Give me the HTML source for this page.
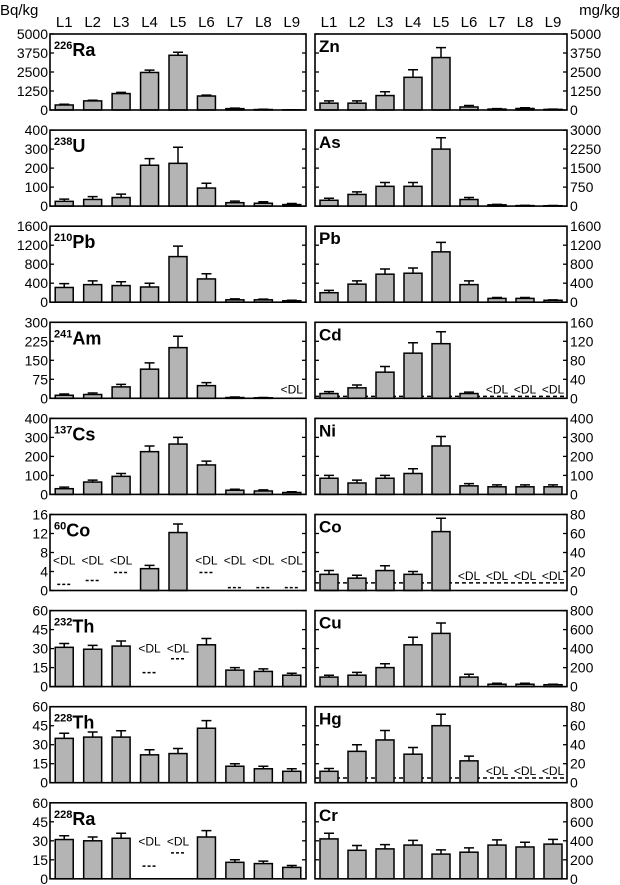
<!DOCTYPE html>
<html><head><meta charset="utf-8"><style>
html,body{margin:0;padding:0;background:#fff;}
svg{display:block;font-family:"Liberation Sans",sans-serif;}
</style></head><body>
<svg id="chart" width="620" height="885" viewBox="0 0 620 885"></svg>
<script>
const categories = ["L1","L2","L3","L4","L5","L6","L7","L8","L9"];
// left panels (Bq/kg)
const ra226Vals = [330,600,1080,2470,3600,920,90,30,10];
const ra226Errs = [50,40,80,150,200,60,30,20,10];
const ra226Ticks = [0,1250,2500,3750,5000];
const u238Vals = [25,35,45,215,225,95,18,15,8];
const u238Errs = [12,15,18,35,85,25,8,8,6];
const u238Ticks = [0,100,200,300,400];
const pb210Vals = [310,370,350,320,960,490,50,50,30];
const pb210Errs = [80,80,80,80,220,110,20,15,10];
const pb210Ticks = [0,400,800,1200,1600];
const am241Vals = [12,15,45,115,200,50,3,2,null];
const am241Errs = [5,6,10,25,45,12,2,1,0];
const am241Dl = [null,null,null,null,null,null,null,null,-1];
const am241Ticks = [0,75,150,225,300];
const cs137Vals = [30,65,95,225,265,155,22,18,10];
const cs137Errs = [8,10,15,30,35,20,5,6,4];
const cs137Ticks = [0,100,200,300,400];
const co60Vals = [null,null,null,4.6,12.2,null,null,null,null];
const co60Errs = [0,0,0,0.7,1.8,0,0,0,0];
const co60Dl = [1.3,2.1,3.8,null,null,3.8,0.6,0.6,0.6];
const co60Ticks = [0,4,8,12,16];
const th232Vals = [31,29.5,32,null,null,33,13,12,9];
const th232Errs = [3,3,4,0,0,5,2,2,1.5];
const th232Dl = [null,null,null,11,22,null,null,null,null];
const th232Ticks = [0,15,30,45,60];
const th228Vals = [35,36,36,22,23,43,13,11,9];
const th228Errs = [4,4,5,4,4,6,2,2,2];
const th228Ticks = [0,15,30,45,60];
const ra228Vals = [31,30,32,null,null,33,13,12,9];
const ra228Errs = [3,3,4,0,0,5,2,2,1.5];
const ra228Dl = [null,null,null,10,20.5,null,null,null,null];
const ra228Ticks = [0,15,30,45,60];
// right panels (mg/kg)
const znVals = [450,450,950,2150,3450,200,60,100,40];
const znErrs = [150,150,250,500,650,100,30,50,20];
const znTicks = [0,1250,2500,3750,5000];
const asVals = [230,460,780,780,2250,260,50,20,15];
const asErrs = [80,100,150,150,450,80,20,10,8];
const asTicks = [0,750,1500,2250,3000];
const pbVals = [200,380,590,610,1060,370,80,80,40];
const pbErrs = [50,70,110,110,200,80,20,20,10];
const pbTicks = [0,400,800,1200,1600];
const cdVals = [10,22,55,95,115,10,null,null,null];
const cdErrs = [4,6,12,22,25,3,0,0,0];
const cdDlLine = 4;
const cdTicks = [0,40,80,120,160];
const niVals = [85,60,85,110,255,45,40,40,40];
const niErrs = [15,15,15,25,50,12,10,10,10];
const niTicks = [0,100,200,300,400];
const coVals = [17,13,21,17,62,null,null,null,null];
const coErrs = [4,3,5,3,14,0,0,0,0];
const coDlLine = 8;
const coTicks = [0,20,40,60,80];
const cuVals = [100,120,200,440,560,100,25,25,20];
const cuErrs = [20,30,40,80,110,30,10,10,5];
const cuTicks = [0,200,400,600,800];
const hgVals = [12,33,45,30,60,23,null,null,null];
const hgErrs = [3,7,10,7,12,5,0,0,0];
const hgDlLine = 5;
const hgTicks = [0,20,40,60,80];
const crVals = [420,300,315,355,260,280,355,335,365];
const crErrs = [60,50,45,50,45,45,55,50,50];
const crTicks = [0,200,400,600,800];

const leftPanels = [
 {id:"ra226",sup:"226",el:"Ra",v:ra226Vals,e:ra226Errs,t:ra226Ticks},
 {id:"u238",sup:"238",el:"U",v:u238Vals,e:u238Errs,t:u238Ticks},
 {id:"pb210",sup:"210",el:"Pb",v:pb210Vals,e:pb210Errs,t:pb210Ticks},
 {id:"am241",sup:"241",el:"Am",v:am241Vals,e:am241Errs,t:am241Ticks,dl:am241Dl,dlText:0.06},
 {id:"cs137",sup:"137",el:"Cs",v:cs137Vals,e:cs137Errs,t:cs137Ticks},
 {id:"co60",sup:"60",el:"Co",v:co60Vals,e:co60Errs,t:co60Ticks,dl:co60Dl,dlText:0.34},
 {id:"th232",sup:"232",el:"Th",v:th232Vals,e:th232Errs,t:th232Ticks,dl:th232Dl,dlText:0.45},
 {id:"th228",sup:"228",el:"Th",v:th228Vals,e:th228Errs,t:th228Ticks},
 {id:"ra228",sup:"228",el:"Ra",v:ra228Vals,e:ra228Errs,t:ra228Ticks,dl:ra228Dl,dlText:0.44}
];
const rightPanels = [
 {id:"zn",el:"Zn",v:znVals,e:znErrs,t:znTicks},
 {id:"as",el:"As",v:asVals,e:asErrs,t:asTicks},
 {id:"pb",el:"Pb",v:pbVals,e:pbErrs,t:pbTicks},
 {id:"cd",el:"Cd",v:cdVals,e:cdErrs,t:cdTicks,line:cdDlLine},
 {id:"ni",el:"Ni",v:niVals,e:niErrs,t:niTicks},
 {id:"co",el:"Co",v:coVals,e:coErrs,t:coTicks,line:coDlLine},
 {id:"cu",el:"Cu",v:cuVals,e:cuErrs,t:cuTicks},
 {id:"hg",el:"Hg",v:hgVals,e:hgErrs,t:hgTicks,line:hgDlLine},
 {id:"cr",el:"Cr",v:crVals,e:crErrs,t:crTicks}
];

const svg = document.getElementById('chart');
const NS = "http://www.w3.org/2000/svg";
function mk(tag, attrs, parent){
  const el = document.createElementNS(NS, tag);
  for (const k in attrs) el.setAttribute(k, attrs[k]);
  (parent||svg).appendChild(el);
  return el;
}
const TOP0 = 34, STEP = 96.1, PH = 76;
const LX = 50, RX = 315, PW = 256, RW = 252;

function txt(x,y,s,size,anchor,weight,parent){
  const t = mk('text',{x:x,y:y,'font-size':size,'text-anchor':anchor||'start','font-weight':weight||'normal',fill:'#000'},parent);
  t.textContent = s;
  return t;
}

function drawPanel(p, idx, side){
  const x0 = side==='left'?LX:RX, w = side==='left'?PW:RW;
  const y0 = TOP0 + idx*STEP;
  const max = p.t[p.t.length-1];
  const yS = v => y0 + PH - (v/max)*PH;
  const band = w/9;
  const xC = i => x0 + band*(i+0.5);
  const g = mk('g',{});
  
  
  p.t.forEach(tv => {
    const y = yS(tv);
    mk('line',{x1:x0,y1:y,x2:x0+4,y2:y,stroke:'#000','stroke-width':1.3},g);
    mk('line',{x1:x0+w-4,y1:y,x2:x0+w,y2:y,stroke:'#000','stroke-width':1.3},g);
    let lab;
    if (side==='left') lab = txt(x0-2, y+5, String(tv), 14, 'end', 'normal', g);
    else lab = txt(x0+w+3, y+5, String(tv), 14, 'start', 'normal', g);
    
    
  });
  if (p.line !== undefined) {
    const ln = mk('line',{x1:x0,y1:yS(p.line),x2:x0+w,y2:yS(p.line),stroke:'#000','stroke-width':1.5,'stroke-dasharray':'4,3'},g);
    
    
  }
  p.v.forEach((v,i) => {
    if (v === null) {
      let ty;
      if (p.dl) ty = y0 + PH - p.dlText*PH;
      else ty = yS(p.line) - 3;
      const dt = txt(xC(i), ty, '<DL', 12, 'middle', 'normal', g);
      
      
      if (p.dl && p.dl[i] !== null && p.dl[i] >= 0) {
        const d = mk('line',{x1:xC(i)-7,y1:yS(p.dl[i]),x2:xC(i)+7,y2:yS(p.dl[i]),stroke:'#000','stroke-width':1.5,'stroke-dasharray':'3,2'},g);
        
        
      }
      return;
    }
    const top = yS(v + p.e[i]);
    const eb = mk('path',{d:`M${xC(i)},${yS(v)}V${top}M${xC(i)-5},${top}H${xC(i)+5}`,stroke:'#000','stroke-width':1.5,fill:'none'},g);
    
    
    const r = mk('rect',{x:xC(i)-9,y:yS(v),width:18,height:Math.max(0,y0+PH-yS(v)),fill:'#b4b4b4',stroke:'#000','stroke-width':1.5},g);
    
    
  });
  const fr = mk('rect',{x:x0,y:y0,width:w,height:PH,fill:'none',stroke:'#000','stroke-width':1.6},g);
  
  
  const t = mk('text',{x:x0+4,y:y0+(p.sup?22:18),'font-weight':'bold',fill:'#000'},g);
  
  
  if (p.sup) {
    const s = mk('tspan',{'font-size':11,dy:-7},t); s.textContent = p.sup;
    const e = mk('tspan',{'font-size':18,dy:7},t); e.textContent = p.el;
  } else {
    const e = mk('tspan',{'font-size':17},t); e.textContent = p.el;
  }
  if (idx===0) {
    categories.forEach((c,i) => {
      const cl = txt(xC(i), y0-7, c, 15, 'middle', 'normal');
      
      
    });
  }
}
leftPanels.forEach((p,i)=>drawPanel(p,i,'left'));
rightPanels.forEach((p,i)=>drawPanel(p,i,'right'));

const u1 = txt(0, 15, 'Bq/kg', 15, 'start');


const u2 = txt(620, 15, 'mg/kg', 15, 'end');


</script>
</body></html>
